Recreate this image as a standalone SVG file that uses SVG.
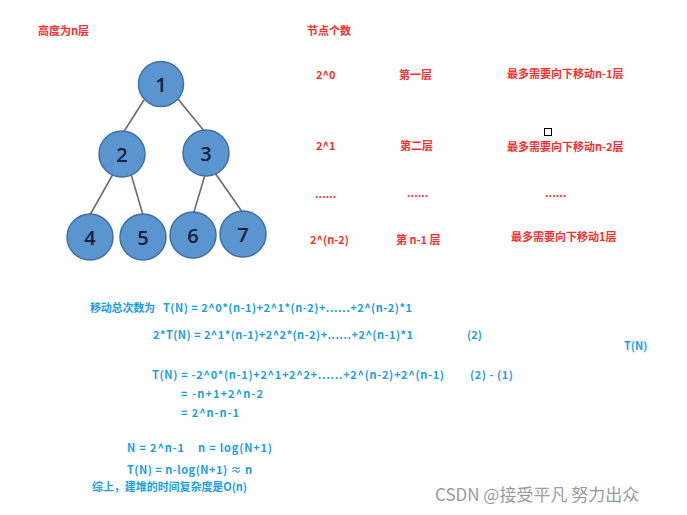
<svg xmlns="http://www.w3.org/2000/svg" width="687" height="515" viewBox="0 0 687 515">
<style>
.r{font-family:"Noto Sans CJK SC","Liberation Sans",sans-serif;font-size:11px;font-weight:bold;fill:#ff2d2d}
.b{font-family:"Noto Sans CJK SC","Liberation Sans",sans-serif;font-size:11px;font-weight:bold;fill:#1a9ee8}
.n circle{fill:#5b95d0;stroke:#3f70a3;stroke-width:1.5}
.n text{font-family:"Open Sans","Liberation Sans",sans-serif;font-size:20px;font-weight:600;fill:#15203a;text-anchor:middle;dominant-baseline:central}
.e line{stroke:#6b6b6b;stroke-width:1.6}
.w{font-family:"Noto Sans CJK SC","Liberation Sans",sans-serif;font-size:17px;fill:#9a9a9a}
</style>
<rect width="687" height="515" fill="#ffffff"/>
<g class="e" id="connectors">
<line x1="144" y1="100" x2="123" y2="133"/>
<line x1="178" y1="99" x2="205" y2="132"/>
<line x1="113" y1="174" x2="90" y2="215"/>
<line x1="131" y1="174" x2="143" y2="215"/>
<line x1="205" y1="175" x2="193" y2="215"/>
<line x1="215" y1="173" x2="243" y2="213"/>
</g>
<g class="n" id="node1"><circle cx="161" cy="84" r="22.5"/><text x="161" y="84">1</text></g>
<g class="n" id="node2"><circle cx="122" cy="154" r="23"/><text x="122" y="154">2</text></g>
<g class="n" id="node3"><circle cx="206" cy="153" r="23"/><text x="206" y="153">3</text></g>
<g class="n" id="node4"><circle cx="90" cy="237" r="23"/><text x="90" y="237">4</text></g>
<g class="n" id="node5"><circle cx="143" cy="237" r="23"/><text x="143" y="237">5</text></g>
<g class="n" id="node6"><circle cx="193" cy="235" r="23"/><text x="193" y="235">6</text></g>
<g class="n" id="node7"><circle cx="243" cy="234" r="23"/><text x="243" y="234">7</text></g>

<text class="r" x="38" y="35">高度为n层</text>
<text class="r" x="307" y="35">节点个数</text>
<text class="r" x="316" y="79">2^0</text>
<text class="r" x="399" y="79">第一层</text>
<text class="r" x="507" y="78">最多需要向下移动n-1层</text>
<rect x="544.5" y="128.5" width="7" height="7" fill="none" stroke="#000" stroke-width="1"/>
<text class="r" x="316" y="150">2^1</text>
<text class="r" x="400" y="150">第二层</text>
<text class="r" x="507" y="151">最多需要向下移动n-2层</text>
<text class="r" x="315" y="198">......</text>
<text class="r" x="407" y="197">......</text>
<text class="r" x="545" y="197">......</text>
<text class="r" x="310" y="244">2^(n-2)</text>
<text class="r" x="396" y="244">第 n-1 层</text>
<text class="r" x="511" y="241">最多需要向下移动1层</text>

<text class="b" x="90" y="312" textLength="65" lengthAdjust="spacing">移动总次数为</text>
<text class="b" x="163" y="312" textLength="249" lengthAdjust="spacing">T(N) = 2^0*(n-1)+2^1*(n-2)+......+2^(n-2)*1</text>
<text class="b" x="153" y="339" textLength="260" lengthAdjust="spacing">2*T(N) = 2^1*(n-1)+2^2*(n-2)+......+2^(n-1)*1</text>
<text class="b" x="467" y="339">(2)</text>
<text class="b" x="624" y="350">T(N)</text>
<text class="b" x="152" y="379" textLength="292" lengthAdjust="spacing">T(N) = -2^0*(n-1)+2^1+2^2+......+2^(n-2)+2^(n-1)</text>
<text class="b" x="470" y="379" textLength="43" lengthAdjust="spacing">(2) - (1)</text>
<text class="b" x="181" y="398" textLength="82" lengthAdjust="spacing">= -n+1+2^n-2</text>
<text class="b" x="181" y="417" textLength="58" lengthAdjust="spacing">= 2^n-n-1</text>
<text class="b" x="127" y="452" textLength="57" lengthAdjust="spacing">N = 2^n-1</text>
<text class="b" x="198" y="452" textLength="74" lengthAdjust="spacing">n = log(N+1)</text>
<text class="b" x="127" y="474" textLength="125" lengthAdjust="spacing">T(N) = n-log(N+1) ≈ n</text>
<text class="b" x="92" y="491" textLength="155" lengthAdjust="spacing">综上，建堆的时间复杂度是O(n)</text>
<text class="w" x="435" y="501">CSDN @接受平凡 努力出众</text>
</svg>
